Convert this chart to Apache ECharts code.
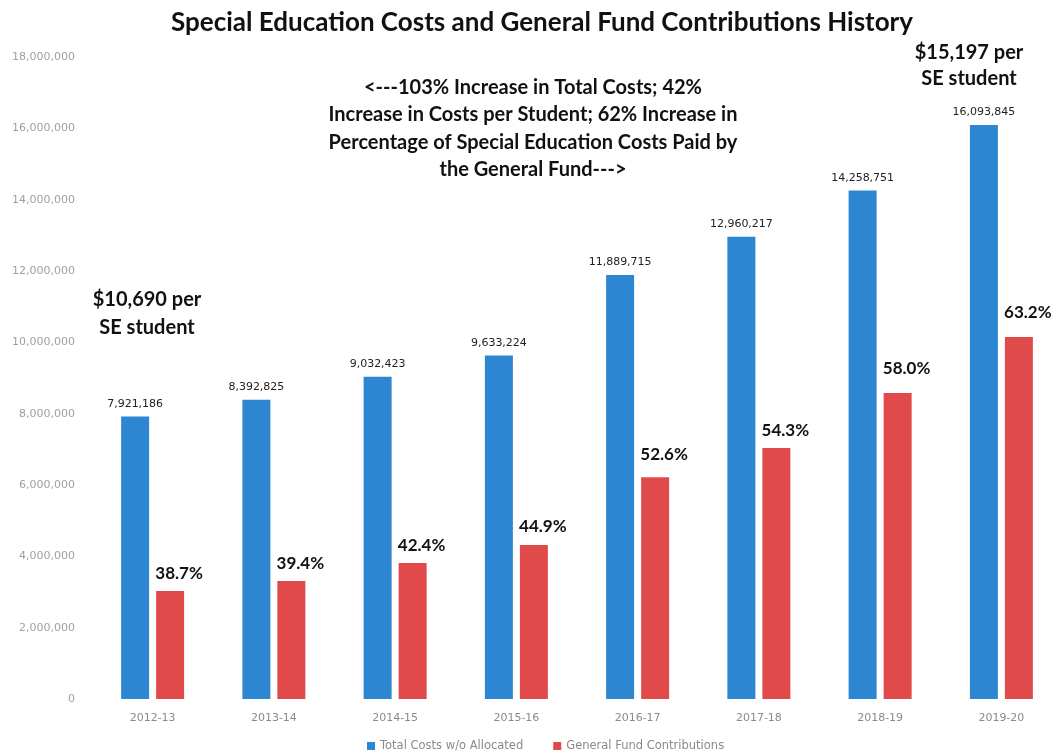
<!DOCTYPE html>
<html>
<head>
<meta charset="utf-8">
<script src="https://cdn.jsdelivr.net/npm/echarts@6/dist/echarts.min.js"></script>
<style>
  html, body { margin: 0; padding: 0; background: #fff; }
  #chart { width: 1052px; height: 755px; }
</style>
</head>
<body>
<div id="chart"></div>
<script>
const years = ['2012-13', '2013-14', '2014-15', '2015-16', '2016-17', '2017-18', '2018-19', '2019-20']
const totalCosts = [7921186, 8392825, 9032423, 9633224, 11889715, 12960217, 14258751, 16093845]
const generalFund = [3030000, 3310000, 3810000, 4320000, 6220000, 7040000, 8580000, 10150000]
const fundShare = ['38.7%', '39.4%', '42.4%', '44.9%', '52.6%', '54.3%', '58.0%', '63.2%']

// the % labels sit a bit higher on some bars in the original
const shareLift = [0, 0, 0, 1, 5, 0, 7, 7]

const blue = '#2d86d2'
const red = '#e04a4a'
const boldFont = 'Lato'

const chart = echarts.init(document.getElementById('chart'))

chart.setOption({
  animation: false,
  title: {
    text: 'Special Education Costs and General Fund Contributions History',
    left: 166,
    top: 5,
    textStyle: { fontFamily: boldFont, fontSize: 26, fontWeight: 'bold', color: '#111' }
  },
  legend: {
    bottom: -2,
    left: 362,
    itemWidth: 8,
    itemHeight: 8,
    itemGap: 30,
    icon: 'rect',
    textStyle: { fontFamily: 'DejaVu Sans', fontSize: 11.5, color: '#8a8a8a' }
  },
  grid: { left: 92, right: -10, top: 57, bottom: 56, containLabel: false, outerBoundsMode: 'none' },
  xAxis: {
    type: 'category',
    data: years,
    axisLine: { show: false },
    axisTick: { show: false },
    axisLabel: { margin: 14, fontFamily: 'DejaVu Sans', fontSize: 11, color: '#8a8a8a' }
  },
  yAxis: {
    type: 'value',
    min: 0,
    max: 18000000,
    interval: 2000000,
    splitLine: { show: false },
    axisLabel: {
      margin: 17,
      fontFamily: 'DejaVu Sans',
      fontSize: 11,
      color: '#a0a0a0',
      formatter: v => v.toLocaleString('en-US')
    }
  },
  series: [
    {
      name: 'Total Costs w/o Allocated',
      type: 'bar',
      data: totalCosts,
      barWidth: 28,
      barGap: '25%',
      itemStyle: { color: blue },
      label: {
        show: true,
        position: 'top',
        distance: 7,
        fontFamily: 'DejaVu Sans',
        fontSize: 11,
        color: '#222',
        formatter: p => p.value.toLocaleString('en-US')
      }
    },
    {
      name: 'General Fund Contributions',
      type: 'bar',
      barWidth: 28,
      itemStyle: { color: red },
      data: generalFund.map((v, i) => ({
        value: v,
        label: { offset: [9, -shareLift[i]] }
      })),
      label: {
        show: true,
        position: 'top',
        distance: 9,
        fontFamily: boldFont,
        fontSize: 17,
        fontWeight: 'bold',
        color: '#111',
        formatter: p => fundShare[p.dataIndex]
      }
    }
  ],
  graphic: [
    {
      type: 'text',
      x: 147,
      y: 286,
      style: {
        text: '$10,690 per\nSE student',
        fontFamily: boldFont,
        fontSize: 20,
        fontWeight: 'bold',
        lineHeight: 28,
        fill: '#111',
        align: 'center'
      }
    },
    {
      type: 'text',
      x: 969,
      y: 40,
      style: {
        text: '$15,197 per\nSE student',
        fontFamily: boldFont,
        fontSize: 20,
        fontWeight: 'bold',
        lineHeight: 26,
        fill: '#111',
        align: 'center'
      }
    },
    {
      type: 'text',
      x: 533,
      y: 74,
      style: {
        text: '<---103% Increase in Total Costs; 42%\nIncrease in Costs per Student; 62% Increase in\nPercentage of Special Education Costs Paid by\nthe General Fund--->',
        fontFamily: boldFont,
        fontSize: 20,
        fontWeight: 'bold',
        lineHeight: 27.3,
        fill: '#111',
        align: 'center'
      }
    }
  ]
})
</script>
</body>
</html>
